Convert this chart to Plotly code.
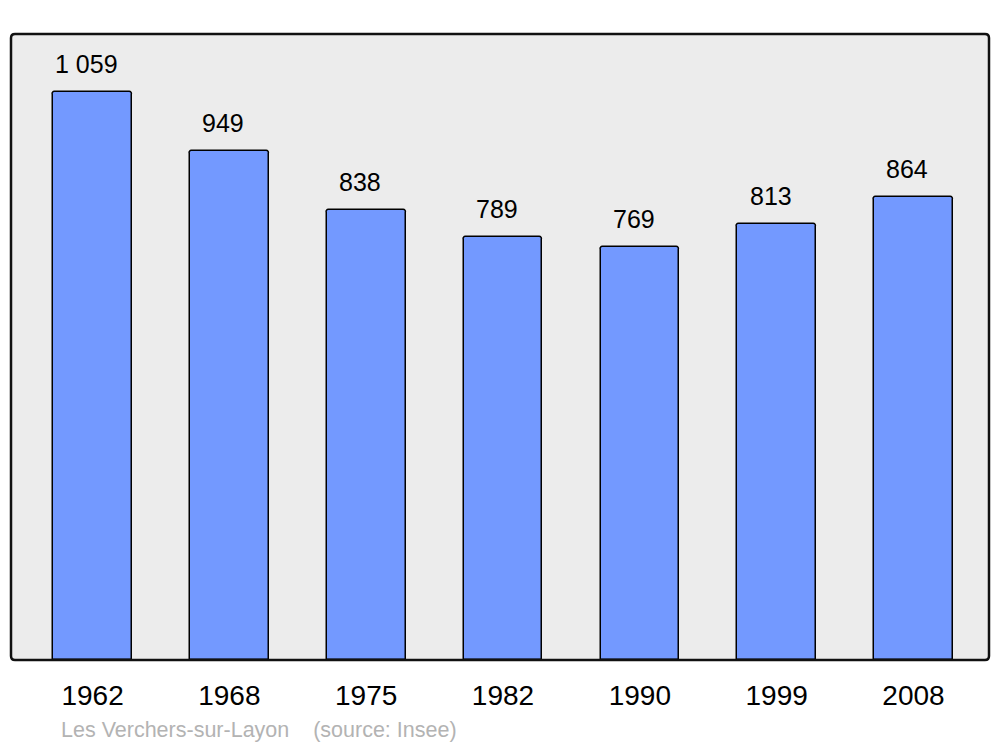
import plotly.graph_objects as go

years = ["1962", "1968", "1975", "1982", "1990", "1999", "2008"]
population = [1059, 949, 838, 789, 769, 813, 864]
value_labels = ["1 059", "949", "838", "789", "769", "813", "864"]
footer = "Les Verchers-sur-Layon    (source: Insee)"

xpos = list(range(len(years)))
FONT = "Liberation Sans, Arial, sans-serif"

# page has an 8px body margin; compensate
W, H = 992, 739
PL, PR, PT, PB = 3, 11, 26, 87
pw, ph = W - PL - PR, H - PT - PB

fig = go.Figure()
fig.add_trace(go.Bar(
    x=xpos, y=population, width=0.575,
    marker=dict(color="#7399ff", line=dict(color="#000000", width=1.5), cornerradius=3),
    hoverinfo="skip",
))

for x, v, lab in zip(xpos, population, value_labels):
    fig.add_annotation(x=x, y=v, text=lab, showarrow=False, xref="x", yref="y",
                       yanchor="middle", yshift=28, xshift=-6,
                       font=dict(family=FONT, size=25, color="#000000"))

fig.add_annotation(x=(59 - 11) / pw, y=-(730 - 660) / ph, xref="paper", yref="paper",
                   xanchor="left", yanchor="middle", text=footer, showarrow=False,
                   font=dict(family=FONT, size=21.5, color="#b3b3b3"))

fig.update_layout(
    width=W, height=H,
    margin=dict(l=PL, r=PR, t=PT, b=PB, pad=0),
    paper_bgcolor="#ffffff", plot_bgcolor="#ececec",
    showlegend=False,
    bargap=0,
)
fig.update_xaxes(range=[-0.596, 6.552], tickvals=xpos, ticktext=years,
                 showgrid=False, zeroline=False, showline=False, ticks="",
                 tickfont=dict(family=FONT, size=28, color="#000000"),
                 ticklabelstandoff=16)
fig.update_yaxes(range=[0, 1167], showgrid=False, zeroline=False, showline=False,
                 showticklabels=False, ticks="")

rx, ry = 4 / pw, 4 / ph
path = (f"M {rx},0 L {1-rx},0 Q 1,0 1,{ry} L 1,{1-ry} Q 1,1 {1-rx},1 "
        f"L {rx},1 Q 0,1 0,{1-ry} L 0,{ry} Q 0,0 {rx},0 Z")
fig.add_shape(type="path", xref="paper", yref="paper", path=path,
              line=dict(color="#111111", width=2.5), fillcolor="rgba(0,0,0,0)", layer="above")

fig.write_html("out.html")
